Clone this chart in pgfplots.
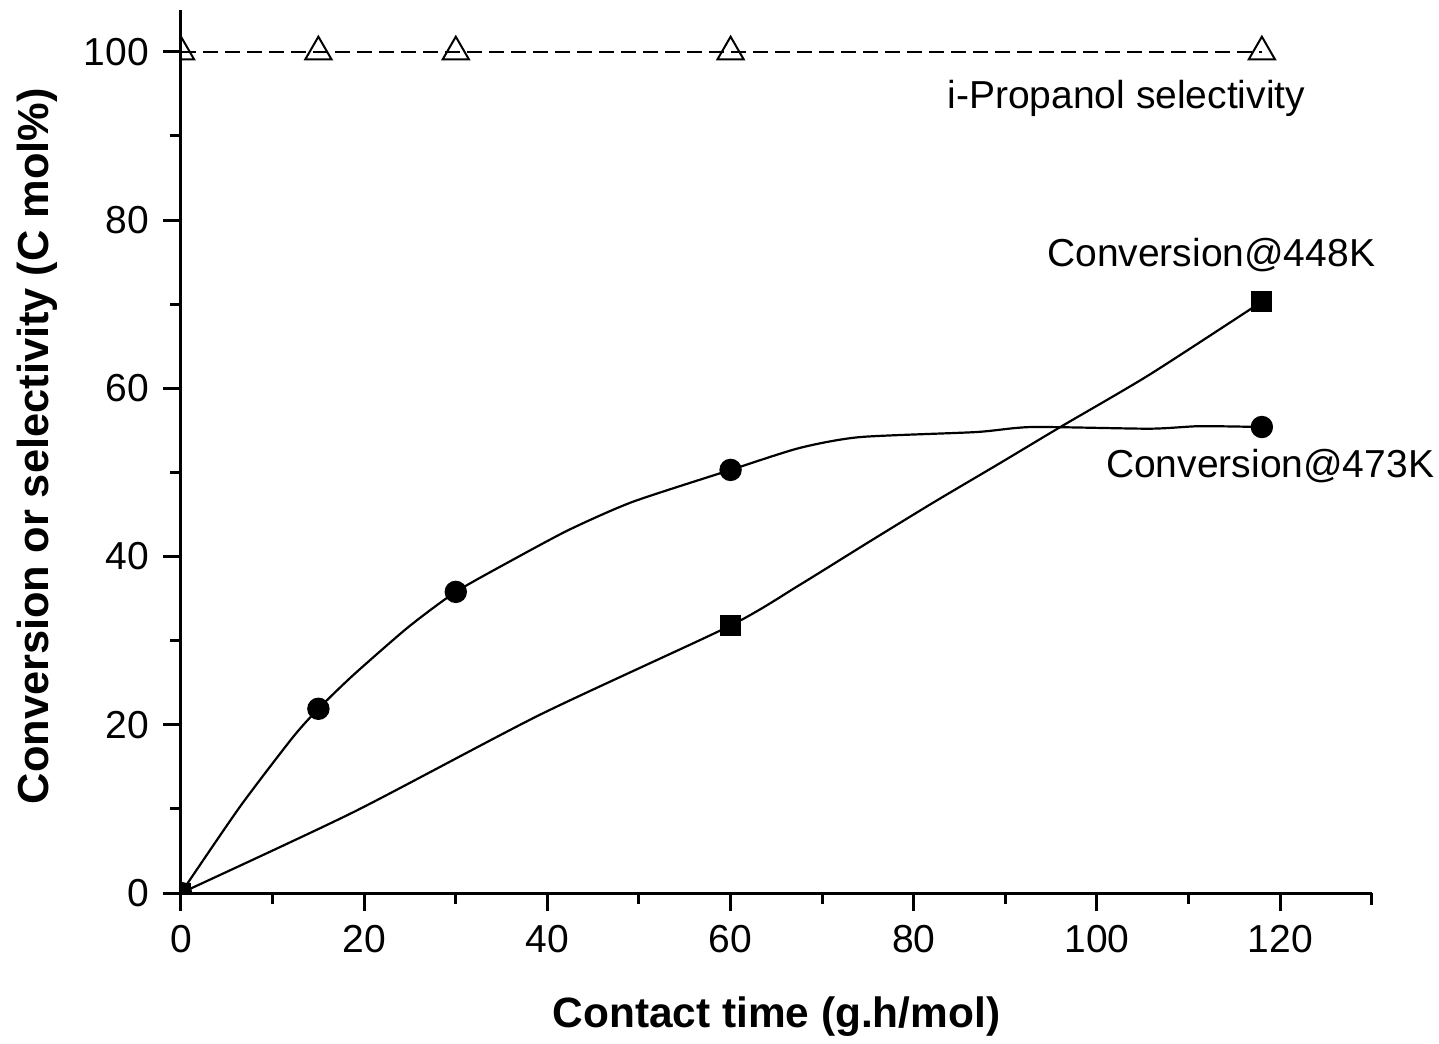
\documentclass[border=0pt]{standalone}
\usepackage{pgfplots}
\pgfplotsset{compat=1.18}
\usepackage{fontspec}
\setmainfont{Liberation Sans}
\begin{document}
\begin{tikzpicture}
\begin{axis}[
  scale only axis,
  width=297.7pt, height=220.8pt,
  xmin=0, xmax=130, ymin=0, ymax=105,
  axis lines=left,
  axis line style={-, line width=0.75pt},
  xtick={0,20,...,120}, ytick={0,20,...,100},
  minor x tick num=1, minor y tick num=1,
  extra x ticks={130}, extra x tick labels={},
  extra x tick style={major tick length=3pt},
  tick align=outside,
  major tick length=4.5pt, minor tick length=2.8pt,
  tick style={line width=0.75pt, black},
  /pgf/number format/assume math mode=true,
  ticklabel style={font=\fontsize{9.75}{11}\selectfont},
  xlabel style={font=\fontsize{10.6}{12}\selectfont\bfseries, inner sep=0pt, at={(axis description cs:0.5,-0.1404)}, anchor=center},
  ylabel style={font=\fontsize{10.85}{12}\selectfont\bfseries, inner sep=0pt, at={(axis description cs:-0.1209,0.506)}, anchor=center},
  xlabel={Contact time (g.h/mol)},
  ylabel={Conversion or selectivity (C mol\%)},
  clip marker paths=true,
  after end axis/.code={
    \node[anchor=base, inner sep=0pt, font=\fontsize{9.75}{11}\selectfont] at (axis cs:103.2,93.3) {i-Propanol selectivity};
    \node[anchor=base, inner sep=0pt, font=\fontsize{9.75}{11}\selectfont] at (axis cs:112.46,74.5) {Conversion@448K};
    \node[anchor=base, inner sep=0pt, font=\fontsize{9.75}{11}\selectfont] at (axis cs:118.9,49.35) {Conversion@473K};
  },
]
% i-Propanol selectivity
\addplot[black, line width=0.5pt, dash pattern=on 3.75pt off 1.75pt, mark=triangle, mark size=3.8pt, mark options={solid, line width=0.5pt}]
  coordinates {(0,100) (15,100) (30,100) (60,100) (118,100)};
% 473 K curve (traced)
\addplot[black, line width=0.55pt, smooth, tension=0.4, mark=none]
  coordinates {(0,0) (6.4,10.2) (12.2,18.5) (15,21.9) (18.8,25.9) (24.8,31.6) (30,35.8) (36.2,39.6) (42.4,43.2) (49.3,46.5) (60,50.3) (67.5,52.9) (74.1,54.2) (86.8,54.8) (92.9,55.4) (105.7,55.2) (111.2,55.5) (118,55.4)};
% 448 K curve (traced)
\addplot[black, line width=0.55pt, smooth, tension=0.4, mark=none]
  coordinates {(0,0) (18.8,9.6) (39.2,21.2) (60,31.8) (67.5,36.6) (74.9,41.6) (82.1,46.4) (89.4,51.1) (96,55.4) (105.7,61.6) (118,70.3)};
% 473 K data
\addplot[only marks, mark=*, mark size=2.6pt, black]
  coordinates {(0,0) (15,21.9) (30,35.8) (60,50.3) (118,55.4)};
% 448 K data
\addplot[only marks, mark=square*, mark size=2.4pt, black]
  coordinates {(0,0) (60,31.8) (118,70.3)};
\end{axis}
\path (-45.25pt,-37.5pt) rectangle (314.5pt,223.25pt);
\end{tikzpicture}
\end{document}
